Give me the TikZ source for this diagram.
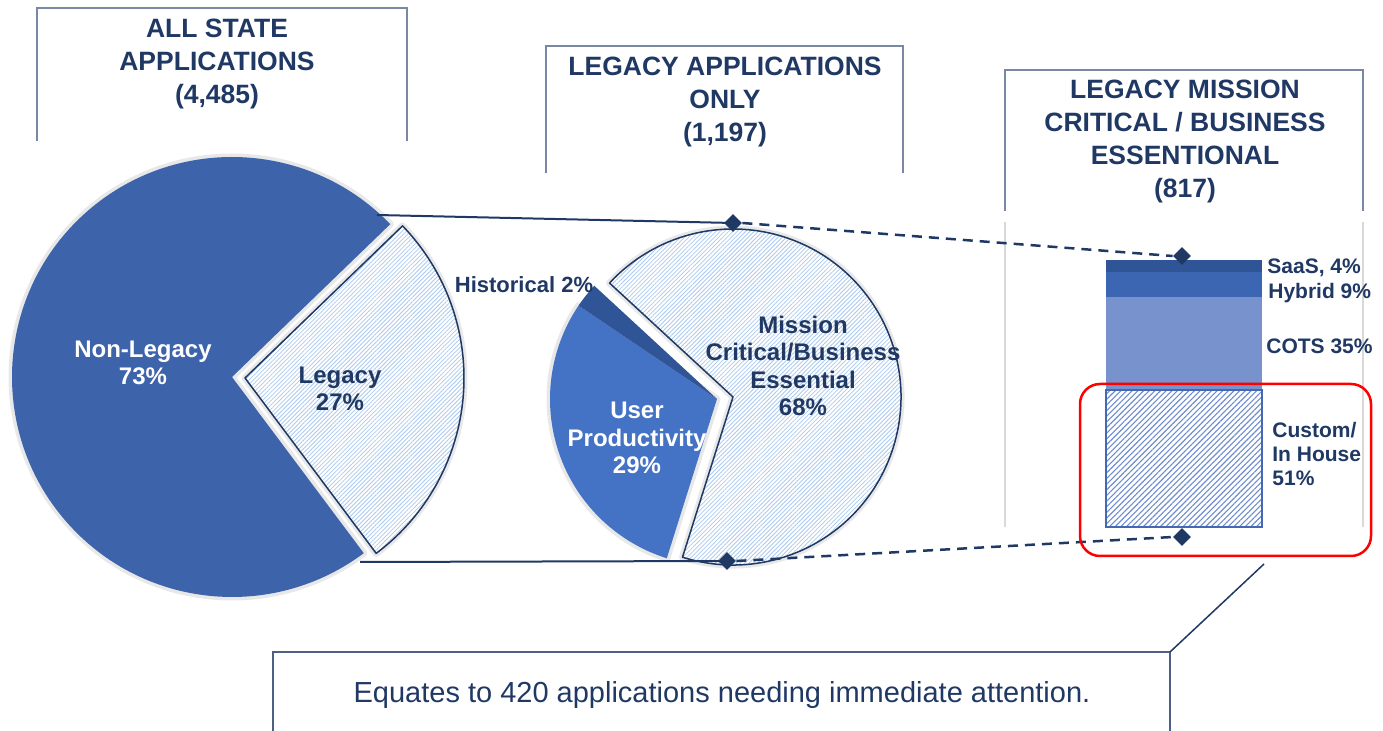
\documentclass[tikz,border=0pt]{standalone}
\usepackage{fontspec}
\setmainfont{Liberation Sans}
\usetikzlibrary{patterns.meta,shapes.geometric}
\definecolor{navy}{RGB}{31,56,100}
\definecolor{nonleg}{RGB}{61,99,170}
\definecolor{upblue}{RGB}{68,114,196}
\definecolor{histc}{RGB}{47,85,151}
\definecolor{saasc}{RGB}{47,85,151}
\definecolor{hybc}{RGB}{61,102,178}
\definecolor{cotsc}{RGB}{120,146,206}
\definecolor{hatchlight}{RGB}{172,202,238}
\definecolor{hatchbar}{RGB}{110,140,208}
\definecolor{barborder}{RGB}{68,104,180}
\definecolor{boxline}{RGB}{120,136,165}
\definecolor{framegray}{RGB}{217,217,217}
\definecolor{shadowc}{RGB}{232,232,232}
\begin{document}
\begin{tikzpicture}[x=0.5pt,y=0.5pt,
  titlebox/.style={draw=boxline, line width=0.75pt},
  titletext/.style={text=navy, align=center, inner sep=0pt, font=\fontsize{13.25pt}{16.5pt}\selectfont\bfseries},
  pielabel/.style={align=center, inner sep=0pt, font=\fontsize{12pt}{13.8pt}\selectfont\bfseries},
  barlabel/.style={text=navy, inner sep=0pt, font=\fontsize{10.5pt}{12pt}\selectfont\bfseries},
  halo/.style={preaction={draw=shadowc, line width=3.5pt, line join=round}},
  whitebg/.style={preaction={fill=white}},
  hatchpie/.style={pattern={Lines[angle=45, distance=1.5pt, line width=0.4pt]}, pattern color=hatchlight},
  hatchbar/.style={pattern={Lines[angle=45, distance=2pt, line width=0.55pt]}, pattern color=hatchbar},
  pieedge/.style={draw=navy, line width=0.75pt, line join=round},
  conn/.style={draw=navy, line width=1pt},
  dashconn/.style={draw=navy, line width=1.25pt, dash pattern=on 5pt off 3.5pt},
  dmark/.style={diamond, fill=navy, inner sep=0pt, minimum size=9pt},
  frame/.style={draw=framegray, line width=1pt}
]
\useasboundingbox (0,0) rectangle (1383,-731);

% title boxes
\draw[titlebox] (37,-141) -- (37,-8) -- (407,-8) -- (407,-141);
\node[titletext] (t1) at (217,-64) {ALL STATE\\APPLICATIONS\\(4,485)};
\draw[titlebox] (546,-173) -- (546,-46) -- (903,-46) -- (903,-173);
\node[titletext] (t2) at (725,-102) {LEGACY APPLICATIONS\\ONLY\\(1,197)};
\draw[titlebox] (1005,-211) -- (1005,-70) -- (1363,-70) -- (1363,-211);
\node[titletext] (t3) at (1185,-142) {LEGACY MISSION\\CRITICAL / BUSINESS\\ESSENTIONAL\\(817)};

% chart frame lines
\draw[frame] (1005,-222) -- (1005,-527);
\draw[frame] (1363,-222) -- (1363,-527);

% pie 1
\fill[nonleg, halo] (232,-377) -- ++(44:220) arc[start angle=44, end angle=306.8, radius=220] -- cycle;
\path[halo, whitebg, hatchpie, pieedge] (245,-378) -- ++(-53.2:219) arc[start angle=-53.2, end angle=44, radius=219] -- cycle;
\node[pielabel, text=white] (nl) at (143,-363) {Non-Legacy\\73\%};
\node[pielabel, text=navy] (lg) at (340,-389) {Legacy\\27\%};

% pie 2
\fill[upblue, halo] (717,-399) -- ++(146:167) arc[start angle=146, end angle=252.5, radius=167] -- cycle;
\fill[histc] (717,-399) -- ++(137.3:167) arc[start angle=137.3, end angle=146, radius=167] -- cycle;
\path[halo, whitebg, hatchpie, pieedge] (733,-397) -- ++(-107.5:168) arc[start angle=-107.5, end angle=137.3, radius=168] -- cycle;
\node[pielabel, text=white] (up) at (637,-438) {User\\Productivity\\29\%};
\node[pielabel, text=navy] (mc) at (803,-366) {Mission\\Critical/Business\\Essential\\68\%};
\node[pielabel, text=navy, font=\fontsize{11pt}{13pt}\selectfont\bfseries] (hi) at (524,-285) {Historical 2\%};

% stacked bar
\fill[saasc] (1106,-260) rectangle (1262,-272);
\fill[hybc] (1106,-272) rectangle (1262,-297);
\fill[cotsc] (1106,-297) rectangle (1262,-390);
\path[whitebg, hatchbar, draw=barborder, line width=0.75pt] (1106,-390) rectangle (1262,-527);
\node[barlabel, anchor=base west] (saas) at (1267,-274) {SaaS, 4\%};
\node[barlabel, anchor=base west] (hyb) at (1268,-299) {Hybrid 9\%};
\node[barlabel, anchor=base west] (cots) at (1266,-354) {COTS 35\%};
\node[barlabel, anchor=west, align=left] (cust) at (1272,-454) {Custom/\\In House\\51\%};

% connectors
\coordinate (p1top) at (377,-215);
\coordinate (p1bot) at (360,-562);
\node[dmark] (d2top) at (733,-223) {};
\node[dmark] (d2bot) at (727,-561) {};
\node[dmark] (d3top) at (1182,-256) {};
\node[dmark] (d3bot) at (1182,-537) {};
\draw[conn] (p1top) -- (d2top.center);
\draw[conn] (p1bot) -- (d2bot.center);
\draw[dashconn] (d2top.east) -- (d3top.west);
\draw[dashconn] (d2bot.east) -- (d3bot.west);

% red highlight
\draw[red, line width=1.25pt, rounded corners=10pt] (1080,-384) rectangle (1371,-556);

% bottom callout
\draw[titlebox, draw=navy!80] (273,-740) -- (273,-652) -- (1170,-652) -- (1170,-740);
\coordinate (cbcorner) at (1170,-652);
\coordinate (cbtip) at (1264,-564);
\draw[navy, line width=0.75pt] (cbcorner) -- (cbtip);
\node[text=navy, inner sep=0pt, font=\fontsize{14.5pt}{17pt}\selectfont] (eq) at (722,-695) {Equates to 420 applications needing immediate attention.};
\end{tikzpicture}
\end{document}
